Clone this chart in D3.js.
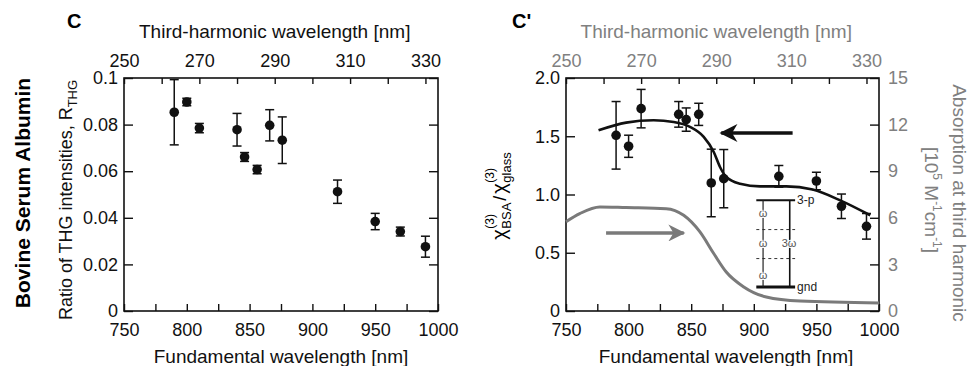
<!DOCTYPE html>
<html>
<head>
<meta charset="utf-8">
<script src="https://cdn.jsdelivr.net/npm/d3@7"></script>
<style>
  body { margin: 0; background: #fff; }
  svg { display: block; }
  text { font-family: "Liberation Sans", Arial, Helvetica, sans-serif; }
</style>
</head>
<body>
<svg id="chart" width="971" height="366"></svg>
<script>
// fundamental wavelengths of the measurements [nm]
const fundamental = [790, 800, 810, 840, 846, 856, 866, 876, 920, 950, 970, 990];

// panel C: ratio of THG intensities
const ratioTHG = [0.0853, 0.0897, 0.0785, 0.0778, 0.0661, 0.0607, 0.0797, 0.0733, 0.0512, 0.0384, 0.0341, 0.0276];
const ratioErr = [0.014, 0.0016, 0.002, 0.007, 0.0019, 0.0018, 0.0067, 0.010, 0.005, 0.0035, 0.0019, 0.0045];

// panel C': chi(3) ratio
const chiRatio = [1.508, 1.414, 1.737, 1.688, 1.643, 1.688, 1.099, 1.136, 1.156, 1.116, 0.899, 0.727];
const chiErr = [0.29, 0.095, 0.165, 0.11, 0.1, 0.095, 0.29, 0.25, 0.093, 0.075, 0.105, 0.11];

// fit through chi(3) ratio
const fitWl = [776, 798, 820, 836, 849, 860, 868, 873, 878, 889, 905, 926, 947, 969, 993];
const fitChi = [1.551, 1.617, 1.637, 1.622, 1.58, 1.494, 1.365, 1.236, 1.15, 1.093, 1.07, 1.07, 1.042, 0.95, 0.822];

// absorption at third harmonic [10^5 M^-1 cm^-1]
const absWl = [750, 761, 777, 798, 830, 844, 857, 868, 878, 892, 910, 937, 1000];
const absVal = [5.75, 6.27, 6.70, 6.66, 6.59, 6.16, 5.09, 3.70, 2.51, 1.55, 0.90, 0.64, 0.52];

// tick values
const fundTicks = d3.range(750, 1001, 25);
const thirdTicks = d3.range(250, 331, 10);
const ratioTicks = [0, 0.02, 0.04, 0.06, 0.08, 0.1];
const chiTicks = [0, 0.5, 1.0, 1.5, 2.0];
const absTicks = [0, 3, 6, 9, 12, 15];

// arrows (in data units: fundamental wavelength, chi ratio)
const blackArrow = [[931, 1.528], [874, 1.528]];
const greyArrow = [[782, 0.67], [844, 0.67]];

// energy level inset (data units)
const levelX = [902, 933];
const levelY = { top: 0.95, gnd: 0.206 };
const virtualY = [0.699, 0.45];
const omegaX = 907.4, threeOmegaX = 928.7;
const omegaY = [0.839, 0.584, 0.306];

const GREY = "#808080";
const svg = d3.select("#chart");
const plotTop = 78, plotBottom = 311;

function panel(x0, x1, yDomain, yTicks, yFmt, opts) {
  const x = d3.scaleLinear().domain([750, 1000]).range([x0, x1]);
  const xt = d3.scaleLinear().domain([250, 1000 / 3]).range([x0, x1]);
  const y = d3.scaleLinear().domain(yDomain).range([plotBottom, plotTop]);
  const g = svg.append("g");

  const style = (sel, col) => {
    sel.select(".domain").remove();
    sel.selectAll("line").attr("stroke", "#111").attr("stroke-width", 1.4);
    sel.selectAll("text").attr("font-size", 18).attr("fill", col)
      .attr("font-family", "'Liberation Sans', Arial, sans-serif");
  };

  g.append("g").attr("transform", `translate(0,${plotBottom})`)
    .call(d3.axisBottom(x).tickValues(fundTicks).tickSize(-7).tickPadding(12)
      .tickFormat(d => d % 50 === 0 ? d : ""))
    .call(s => style(s, "#111"));

  g.append("g").attr("transform", `translate(0,${plotTop})`)
    .call(d3.axisTop(xt).tickValues(thirdTicks).tickSize(-6).tickPadding(11)
      .tickFormat(d => (d - 250) % 20 === 0 ? d : ""))
    .call(s => style(s, opts.topColor));

  g.append("g").attr("transform", `translate(${x0},0)`)
    .call(d3.axisLeft(y).tickValues(yTicks).tickSize(-9).tickPadding(6).tickFormat(yFmt))
    .call(s => style(s, "#111"));

  const frame = g.append("rect").attr("x", x0).attr("y", plotTop)
    .attr("width", x1 - x0).attr("height", plotBottom - plotTop)
    .attr("fill", "none").attr("stroke", "#111").attr("stroke-width", 1.6);

  return { g, x, xt, y, frame };
}

function errorPoints(p, vals, errs) {
  const gp = p.g.append("g");
  fundamental.forEach((f, i) => {
    const cx = p.x(f);
    const lo = p.y(vals[i] - errs[i]), hi = p.y(vals[i] + errs[i]);
    gp.append("line").attr("x1", cx).attr("x2", cx).attr("y1", lo).attr("y2", hi)
      .attr("stroke", "#111").attr("stroke-width", 1.5);
    [lo, hi].forEach(yy => gp.append("line").attr("x1", cx - 4.5).attr("x2", cx + 4.5)
      .attr("y1", yy).attr("y2", yy).attr("stroke", "#111").attr("stroke-width", 1.5));
    gp.append("circle").attr("cx", cx).attr("cy", p.y(vals[i])).attr("r", 4.8).attr("fill", "#111");
  });
}

// ---------- panel C ----------
const pC = panel(124, 438, [0, 0.1], ratioTicks,
  d => d === 0 ? "0" : (d === 0.1 ? "0.1" : d.toFixed(2)), { topColor: "#111" });
pC.g.append("g").attr("transform", "translate(438,0)")
  .call(d3.axisRight(pC.y).tickValues(ratioTicks).tickSize(-9).tickFormat(""))
  .call(s => { s.select(".domain").remove(); s.selectAll("line").attr("stroke", "#111").attr("stroke-width", 1.4); });
errorPoints(pC, ratioTHG, ratioErr);

// ---------- panel C' ----------
const pD = panel(566, 879, [0, 2], chiTicks, d => d === 0 ? "0" : d.toFixed(1), { topColor: GREY });
const yAbs = d3.scaleLinear().domain([0, 15]).range([plotBottom, plotTop]);
pD.g.append("g").attr("transform", "translate(879,0)")
  .call(d3.axisRight(yAbs).tickValues(absTicks).tickSize(-9).tickPadding(9))
  .call(s => {
    s.select(".domain").remove();
    s.selectAll("line").attr("stroke", "#111").attr("stroke-width", 1.4);
    s.selectAll("text").attr("font-size", 18).attr("fill", GREY)
      .attr("font-family", "'Liberation Sans', Arial, sans-serif");
  });

// absorption curve
pD.g.append("path")
  .datum(absWl.map((w, i) => [w, absVal[i]]))
  .attr("d", d3.line().x(d => pD.x(d[0])).y(d => yAbs(d[1])).curve(d3.curveMonotoneX))
  .attr("fill", "none").attr("stroke", "#7a7a7a").attr("stroke-width", 3);

// fit curve
pD.g.append("path")
  .datum(fitWl.map((w, i) => [w, fitChi[i]]))
  .attr("d", d3.line().x(d => pD.x(d[0])).y(d => pD.y(d[1])).curve(d3.curveMonotoneX))
  .attr("fill", "none").attr("stroke", "#111").attr("stroke-width", 2.6);

errorPoints(pD, chiRatio, chiErr);

// arrows
const defs = svg.append("defs");
[["headBlack", "#111"], ["headGrey", "#7a7a7a"]].forEach(([id, col]) => {
  defs.append("marker").attr("id", id).attr("viewBox", "0 0 10 10")
    .attr("refX", 9).attr("refY", 5).attr("markerWidth", 5.5).attr("markerHeight", 5)
    .attr("markerUnits", "strokeWidth").attr("orient", "auto")
    .append("path").attr("d", "M0,0 L10,5 L0,10 L3,5 Z").attr("fill", col);
});
pD.g.append("line")
  .attr("x1", pD.x(blackArrow[0][0])).attr("y1", pD.y(blackArrow[0][1]))
  .attr("x2", pD.x(blackArrow[1][0])).attr("y2", pD.y(blackArrow[1][1]))
  .attr("stroke", "#111").attr("stroke-width", 3.6).attr("marker-end", "url(#headBlack)");
pD.g.append("line")
  .attr("x1", pD.x(greyArrow[0][0])).attr("y1", pD.y(greyArrow[0][1]))
  .attr("x2", pD.x(greyArrow[1][0])).attr("y2", pD.y(greyArrow[1][1]))
  .attr("stroke", "#7a7a7a").attr("stroke-width", 3.4).attr("marker-end", "url(#headGrey)");

// energy level inset
const ins = pD.g.append("g");
const lx0 = pD.x(levelX[0]), lx1 = pD.x(levelX[1]);
ins.append("line").attr("x1", lx0).attr("x2", lx1).attr("y1", pD.y(levelY.top)).attr("y2", pD.y(levelY.top))
  .attr("stroke", "#111").attr("stroke-width", 2);
ins.append("line").attr("x1", lx0).attr("x2", lx1).attr("y1", pD.y(levelY.gnd)).attr("y2", pD.y(levelY.gnd))
  .attr("stroke", "#111").attr("stroke-width", 3.2);
virtualY.forEach(v => ins.append("line").attr("x1", lx0).attr("x2", lx1)
  .attr("y1", pD.y(v)).attr("y2", pD.y(v))
  .attr("stroke", "#333").attr("stroke-width", 1).attr("stroke-dasharray", "3,3"));
ins.append("line").attr("x1", pD.x(omegaX)).attr("x2", pD.x(omegaX))
  .attr("y1", pD.y(levelY.gnd)).attr("y2", pD.y(levelY.top)).attr("stroke", "#222").attr("stroke-width", 1.2);
ins.append("line").attr("x1", pD.x(threeOmegaX)).attr("x2", pD.x(threeOmegaX))
  .attr("y1", pD.y(levelY.gnd)).attr("y2", pD.y(levelY.top)).attr("stroke", "#111").attr("stroke-width", 1.6);
omegaY.forEach(v => ins.append("text").attr("x", pD.x(omegaX)).attr("y", pD.y(v) + 4)
  .attr("text-anchor", "middle").attr("font-size", 11).attr("fill", "#555")
  .attr("stroke", "#fff").attr("stroke-width", 2).attr("paint-order", "stroke").text("ω"));
ins.append("text").attr("x", pD.x(threeOmegaX) - 8).attr("y", pD.y(omegaY[1]) + 4)
  .attr("font-size", 11).attr("fill", "#555")
  .attr("stroke", "#fff").attr("stroke-width", 2).attr("paint-order", "stroke").text("3ω");
ins.append("text").attr("x", lx1 + 2).attr("y", pD.y(levelY.top) + 4)
  .attr("font-size", 12).attr("fill", "#222").text("3-p");
ins.append("text").attr("x", lx1 + 2).attr("y", pD.y(levelY.gnd) + 4)
  .attr("font-size", 12).attr("fill", "#222").text("gnd");

// ---------- labels ----------
const lab = svg.append("g");
lab.append("text").attr("x", 67).attr("y", 28).attr("font-size", 20).attr("font-weight", "bold").text("C");
lab.append("text").attr("x", 512).attr("y", 28).attr("font-size", 20).attr("font-weight", "bold").text("C'");

lab.append("text").attr("x", pC.xt(290)).attr("y", 38).attr("text-anchor", "middle")
  .attr("font-size", 19).attr("fill", "#111").text("Third-harmonic wavelength [nm]");
lab.append("text").attr("x", pD.xt(290)).attr("y", 38).attr("text-anchor", "middle")
  .attr("font-size", 19).attr("fill", GREY).text("Third-harmonic wavelength [nm]");
lab.append("text").attr("x", 281).attr("y", 363).attr("text-anchor", "middle")
  .attr("font-size", 19).attr("fill", "#111").text("Fundamental wavelength [nm]");
lab.append("text").attr("x", 726).attr("y", 363).attr("text-anchor", "middle")
  .attr("font-size", 19).attr("fill", "#111").text("Fundamental wavelength [nm]");

lab.append("text").attr("transform", "translate(30,193) rotate(-90)").attr("text-anchor", "middle")
  .attr("font-size", 21).attr("font-weight", "bold").text("Bovine Serum Albumin");

const rl = lab.append("text").attr("transform", "translate(72,200) rotate(-90)").attr("text-anchor", "middle")
  .attr("font-size", 18).attr("fill", "#111");
rl.append("tspan").text("Ratio of THG intensities, R");
rl.append("tspan").attr("font-size", 13).attr("dy", 5).text("THG");

// chi label, built piece by piece in rotated frame
const cl = lab.append("g").attr("transform", "translate(506,196) rotate(-90)");
const chiParts = cl.append("g");
function chiTerm(xStart, sub) {
  const t = chiParts.append("text").attr("x", xStart).attr("y", 0).attr("font-size", 20).text("χ");
  const w = t.node().getComputedTextLength();
  chiParts.append("text").attr("x", xStart + w + 0.5).attr("y", -12).attr("font-size", 12).text("(3)");
  const s = chiParts.append("text").attr("x", xStart + w + 0.5).attr("y", 5).attr("font-size", 13).text(sub);
  return xStart + w + 0.5 + s.node().getComputedTextLength();
}
let cx = chiTerm(0, "BSA");
const slash = chiParts.append("text").attr("x", cx + 2).attr("y", 0).attr("font-size", 18).text("/");
cx += 2 + slash.node().getComputedTextLength() + 2;
cx = chiTerm(cx, "glass");
chiParts.attr("transform", `translate(${-cx / 2},0)`);

lab.append("text").attr("transform", "translate(953,203) rotate(90)").attr("text-anchor", "middle")
  .attr("font-size", 19).attr("fill", GREY).text("Absorption at third harmonic");
const ul = lab.append("text").attr("transform", "translate(925,200) rotate(90)").attr("text-anchor", "middle")
  .attr("font-size", 19).attr("fill", GREY);
ul.append("tspan").text("[10");
ul.append("tspan").attr("font-size", 12).attr("dy", -8).text("5");
ul.append("tspan").attr("dy", 8).text(" M");
ul.append("tspan").attr("font-size", 12).attr("dy", -8).text("-1");
ul.append("tspan").attr("dy", 8).text("cm");
ul.append("tspan").attr("font-size", 12).attr("dy", -8).text("-1");
ul.append("tspan").attr("dy", 8).text("]");
</script>
</body>
</html>
